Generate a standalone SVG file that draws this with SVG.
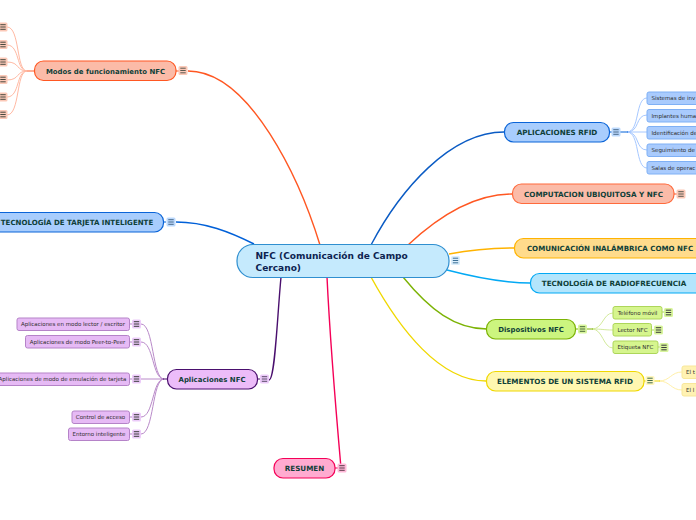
<svg xmlns="http://www.w3.org/2000/svg" width="696" height="520" viewBox="0 0 696 520">
<style>
text{font-family:"DejaVu Sans",Verdana,sans-serif}
.m{font-size:6.95px;font-weight:700;fill:#0f4038;text-anchor:middle}
.u{font-size:7.2px}
.s{font-size:5.5px;fill:#2e2e2e;text-anchor:middle}
.e{font-size:5.5px;fill:#2e2e2e}
.c{fill:none;stroke-width:1.4}
.t{fill:none;stroke-width:1}
.n{stroke-width:1.2}
.p{stroke-width:1}
.pu{fill:#e6baf5;stroke:#b583c8}
.bl{fill:#a9cbfd;stroke:#7fb0f5}
.gr{fill:#d6f58e;stroke:#add65a}
.ye{fill:#fff2b3;stroke:#f8e79a}
</style>
<defs>
<g id="ic"><rect x="-4.500" y="-4.500" width="9" height="9" rx="1.500" stroke="none"/><path d="M-2.700-2.300H2.700M-2.700 0H2.700M-2.700 2.300H2.700" stroke-width="1" fill="none"/></g>
</defs>
<g id="connectors">
<path class="c" stroke="#ff5722" d="M320 245C300 180 250 71 188 71"/>
<path class="c" stroke="#0060d8" d="M254 244C230 232 205 222 176 222"/>
<path class="c" stroke="#4a0f6e" d="M281 277C277 320 275 380 269 380"/>
<path class="c" stroke="#f50057" d="M327 277C330 340 335 400 341 468"/>
<path class="c" stroke="#0a5bc4" d="M371 245C400 190 450 132 504 132"/>
<path class="c" stroke="#ff5722" d="M408 245C440 215 475 194 512 194"/>
<path class="c" stroke="#ffb300" d="M449 254C470 250 490 248 514 248"/>
<path class="c" stroke="#03a9f4" d="M447 270C470 276 500 283 530 283"/>
<path class="c" stroke="#7cb305" d="M403 277C430 310 455 329 487 329"/>
<path class="c" stroke="#f0d800" d="M371 277C400 330 440 381 486 381"/>
<path class="t" stroke="#ffb9a3" d="M27 71C16 71 20 27 7 27M27 71C16 71 20 45 7 45M27 71C16 71 20 62 7 62M27 71C16 71 20 80 7 80M27 71C16 71 20 97 7 97M27 71C16 71 20 115 7 115"/>
<path class="t" stroke="#b98ac9" d="M164 379C152 379 154 324 141 324M164 379C152 379 154 342 141 342M164 379H141M164 379C152 379 154 417 141 417M164 379C152 379 154 434 141 434"/>
<path class="t" stroke="#a6c8ff" d="M627 132C640 132 635 98 647 98M627 132C640 132 635 115 647 115M627 132H647M627 132C640 132 635 150 647 150M627 132C640 132 635 168 647 168"/>
<path class="t" stroke="#d3ea9c" d="M592 329C603 329 603 313 613 313M592 329C603 329 603 330 613 330M592 329C603 329 603 348 613 348"/>
<path class="t" stroke="#fff0a8" d="M659 381C670 381 671 372 682 372M659 381C670 381 671 390 682 390"/>
<path stroke="#ff8a65" stroke-width="1.400" d="M27 71h7"/>
<path stroke="#ff5722" stroke-width="1" d="M176 71h3"/>
<path stroke="#0060d8" stroke-width="1" d="M163 222h3"/>
<path stroke="#4a0f6e" stroke-width="1" d="M257 379h3M163 379h4"/>
<path stroke="#0060d8" stroke-width="1" d="M609 132h3M620 132h8"/>
<path stroke="#ff5722" stroke-width="1" d="M674 194h3"/>
<path stroke="#f50057" stroke-width="1" d="M335 468h3"/>
<path stroke="#7cb305" stroke-width="1" d="M576 329h2M587 329h6"/>
<path stroke="#f0d800" stroke-width="1" d="M644 381h2M654 381h6"/>
<path stroke="#b583c8" stroke-width="1" d="M129 324h3M129 342h3M129 379h3M129 417h3M129 434h3"/>
<path stroke="#add65a" stroke-width="1" d="M662 312h2M652 330h2M658 347h2"/>
</g>
<g id="root"><rect x="237" y="244.500" width="212" height="33" rx="16" fill="#c5eafd" stroke="#2f8fd0" class="n"/><text x="255.500" y="259" font-size="9.050" font-weight="700" fill="#0d2350">NFC (Comunicación de Campo</text><text x="255.500" y="270.500" font-size="9.050" font-weight="700" fill="#0d2350">Cercano)</text><use href="#ic" x="455.500" y="260.500" fill="#dbeefc" stroke="#3b6f96"/></g>
<g id="modos"><rect x="34.500" y="61" width="141.500" height="19.500" rx="9" fill="#fbbba8" stroke="#ff5722" class="n"/><text class="m" x="105.500" y="73.500">Modos de funcionamiento NFC</text><use href="#ic" x="183" y="70.500" fill="#fbc9b8" stroke="#5a5a50"/></g>
<g id="modos-hijos">
<use href="#ic" x="3" y="27" fill="#fbc9b8" stroke="#4a4a40"/>
<use href="#ic" x="3" y="44.500" fill="#fbc9b8" stroke="#4a4a40"/>
<use href="#ic" x="3" y="62" fill="#fbc9b8" stroke="#4a4a40"/>
<use href="#ic" x="3" y="79.500" fill="#fbc9b8" stroke="#4a4a40"/>
<use href="#ic" x="3" y="97" fill="#fbc9b8" stroke="#4a4a40"/>
<use href="#ic" x="3" y="114.500" fill="#fbc9b8" stroke="#4a4a40"/>
</g>
<g id="tarjeta"><rect x="-20" y="212.500" width="183.500" height="19.500" rx="9" fill="#a8cdfd" stroke="#0a64d8" class="n"/><text class="m" style="font-size:7.05px" x="77" y="225">TECNOLOGÍA DE TARJETA INTELIGENTE</text><use href="#ic" x="171" y="222" fill="#bcd9fd" stroke="#4a6a8a"/></g>
<g id="apps"><rect x="167.500" y="369.500" width="90" height="19.500" rx="9" fill="#ecbcf9" stroke="#4a0f6e" class="n"/><text class="m" x="212" y="382">Aplicaciones NFC</text><use href="#ic" x="264.500" y="379" fill="#eccbf9" stroke="#5a4a6a"/></g>
<g id="app1"><rect class="pu p" x="17" y="318" width="112.500" height="12.500" rx="2"/><text class="s" x="73" y="326.300">Aplicaciones en modo lector / escritor</text><use href="#ic" x="136.500" y="324" fill="#eccbf9" stroke="#3c3c3c"/></g>
<g id="app2"><rect class="pu p" x="25.500" y="335.500" width="104" height="12.500" rx="2"/><text class="s" x="77.500" y="343.800">Aplicaciones de modo Peer-to-Peer</text><use href="#ic" x="136.500" y="342" fill="#eccbf9" stroke="#3c3c3c"/></g>
<g id="app3"><rect class="pu p" x="-6" y="373" width="135.500" height="12.500" rx="2"/><text class="s" x="62.500" y="381.300">Aplicaciones de modo de emulación de tarjeta</text><use href="#ic" x="136.500" y="379" fill="#eccbf9" stroke="#3c3c3c"/></g>
<g id="app4"><rect class="pu p" x="72" y="411" width="57.500" height="12.500" rx="2"/><text class="s" x="100.500" y="419.300">Control de acceso</text><use href="#ic" x="136.500" y="417" fill="#eccbf9" stroke="#3c3c3c"/></g>
<g id="app5"><rect class="pu p" x="68.500" y="428" width="61" height="12.500" rx="2"/><text class="s" x="99" y="436.300">Entorno inteligente</text><use href="#ic" x="136.500" y="434" fill="#eccbf9" stroke="#3c3c3c"/></g>
<g id="resumen"><rect x="274" y="458.500" width="61" height="19.500" rx="9" fill="#ffabd0" stroke="#f50057" class="n"/><text class="m u" x="304.500" y="471">RESUMEN</text><use href="#ic" x="342" y="468" fill="#ffb8d8" stroke="#5a3a4a"/></g>
<g id="rfid"><rect x="504.500" y="122.500" width="105" height="19.500" rx="9" fill="#a8cdfd" stroke="#0a64d8" class="n"/><text class="m u" x="557" y="135">APLICACIONES RFID</text><use href="#ic" x="616" y="132" fill="#bcd9fd" stroke="#4a6a8a"/></g>
<g id="rfid1"><rect class="bl p" x="647" y="92" width="60" height="12.500" rx="2"/><text class="e" x="651.500" y="100">Sistemas de inv</text></g>
<g id="rfid2"><rect class="bl p" x="647" y="109.500" width="60" height="12.500" rx="2"/><text class="e" x="651.500" y="117.500">Implantes huma</text></g>
<g id="rfid3"><rect class="bl p" x="647" y="126.500" width="60" height="12.500" rx="2"/><text class="e" x="651.500" y="134.500">Identificación de</text></g>
<g id="rfid4"><rect class="bl p" x="647" y="144" width="60" height="12.500" rx="2"/><text class="e" x="651.500" y="152">Seguimiento de</text></g>
<g id="rfid5"><rect class="bl p" x="647" y="161.500" width="60" height="12.500" rx="2"/><text class="e" x="651.500" y="169.500">Salas de operac</text></g>
<g id="ubicua"><rect x="512.500" y="184" width="161.500" height="19.500" rx="9" fill="#fbbba8" stroke="#ff6a3c" class="n"/><text class="m u" x="593.500" y="196.500">COMPUTACION UBIQUITOSA Y NFC</text><use href="#ic" x="681" y="194" fill="#fbc9b8" stroke="#5a5a50"/></g>
<g id="inalambrica"><rect x="514.500" y="238.500" width="200" height="19.500" rx="9" fill="#ffdb8c" stroke="#ffb300" class="n"/><text class="m" style="font-size:7.1px" x="610" y="251">COMUNICACIÓN INALÁMBRICA COMO NFC</text></g>
<g id="radio"><rect x="530.500" y="273.500" width="180" height="19.500" rx="9" fill="#b3e5fc" stroke="#03a9f4" class="n"/><text class="m u" x="614" y="286">TECNOLOGÍA DE RADIOFRECUENCIA</text></g>
<g id="dispositivos"><rect x="486.500" y="319.500" width="89" height="19.500" rx="9" fill="#ccf57f" stroke="#7cb305" class="n"/><text class="m" x="531" y="332">Dispositivos NFC</text><use href="#ic" x="582.500" y="329" fill="#d8f59c" stroke="#4a6a3a"/></g>
<g id="disp1"><rect class="gr p" x="613" y="306.500" width="49" height="12.500" rx="2"/><text class="s" x="637.500" y="314.800">Teléfono móvil</text><use href="#ic" x="668.500" y="312.500" fill="#d8f59c" stroke="#3c3c3c"/></g>
<g id="disp2"><rect class="gr p" x="613" y="323.500" width="38.500" height="12.500" rx="2"/><text class="s" x="632.500" y="331.800">Lector NFC</text><use href="#ic" x="658.500" y="330" fill="#d8f59c" stroke="#3c3c3c"/></g>
<g id="disp3"><rect class="gr p" x="613" y="341" width="45" height="12.500" rx="2"/><text class="s" x="635.500" y="349.300">Etiqueta NFC</text><use href="#ic" x="664" y="347.500" fill="#d8f59c" stroke="#3c3c3c"/></g>
<g id="elementos"><rect x="486.500" y="371.500" width="157.500" height="19.500" rx="9" fill="#fff7b0" stroke="#f0d800" class="n"/><text class="m u" x="565" y="384">ELEMENTOS DE UN SISTEMA RFID</text><use href="#ic" x="650" y="380.500" fill="#fff7c0" stroke="#3f6a4a"/></g>
<g id="el1"><rect class="ye p" x="682" y="366" width="30" height="12.500" rx="2"/><text class="e" x="686" y="374.300">El t</text></g>
<g id="el2"><rect class="ye p" x="682" y="383.500" width="30" height="12.500" rx="2"/><text class="e" x="686" y="391.800">El l</text></g>
</svg>
